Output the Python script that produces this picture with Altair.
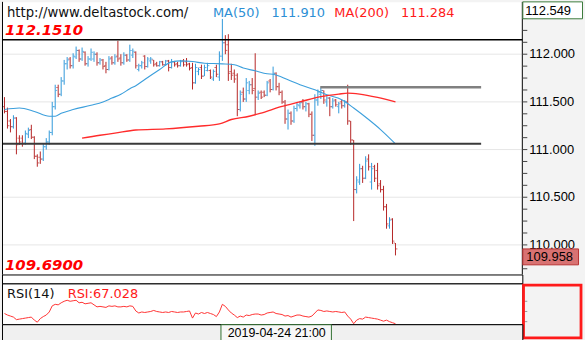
import altair as alt
import pandas as pd

# ---------------- data ----------------
opens = [111.45,111.40,111.30,111.24,111.33,111.12,111.12,111.07,111.16,111.21,
         111.13,110.93,110.92,110.90,111.03,111.08,111.18,111.45,111.65,111.58,
         111.72,111.90,111.95,111.88,111.97,112.04,111.95,112.02,111.90,111.95,
         111.95,112.00,111.91,111.94,111.88,111.84,111.96,111.91,111.98,111.96,
         111.91,111.99,111.94,111.99,112.02,111.84,111.88,111.98,111.87,111.93,
         111.94,111.90,111.88,111.92,111.89,111.93,111.86,111.92,111.90,111.88,
         111.93,111.92,111.90,111.86,111.70,111.82,111.86,111.77,111.83,111.83,
         111.74,111.86,111.76,111.98,112.12,112.10,111.82,111.80,111.78,111.42,
         111.60,111.53,111.62,111.68,111.64,111.55,111.60,111.60,111.57,111.72,
         111.63,111.80,111.66,111.60,111.50,111.32,111.38,111.30,111.43,111.46,
         111.50,111.45,111.48,111.37,111.15,111.52,111.58,111.62,111.50,111.54,
         111.45,111.52,111.45,111.50,111.46,111.50,111.30,111.10,110.58,110.66,
         110.80,110.70,110.90,110.66,110.82,110.78,110.64,110.58,110.40,110.20,
         110.27,110.02]
highs = [111.55,111.44,111.32,111.36,111.34,111.15,111.15,111.20,111.23,111.26,
         111.14,110.95,110.98,111.06,111.12,111.20,111.50,111.68,111.68,111.76,
         111.94,111.97,111.97,112.01,112.08,112.05,112.07,112.03,111.98,112.06,
         112.03,112.02,111.96,111.95,111.92,111.98,111.98,112.00,112.14,112.00,
         112.02,112.00,112.10,112.06,112.03,111.90,111.93,111.99,111.97,111.97,
         111.94,111.92,111.93,111.93,111.94,111.94,111.95,111.93,111.92,111.94,
         111.95,111.96,111.91,111.91,111.90,111.86,111.89,111.89,111.91,111.84,
         111.84,111.89,112.03,112.37,112.20,112.21,111.90,111.84,111.80,111.62,
         111.65,111.75,111.72,111.75,112.01,111.62,111.62,111.62,111.72,111.74,
         111.87,111.81,111.70,111.62,111.52,111.42,111.40,111.46,111.49,111.51,
         111.53,111.50,111.49,111.40,111.58,111.63,111.65,111.62,111.56,111.55,
         111.54,111.53,111.50,111.52,111.52,111.68,111.30,111.10,110.72,110.85,
         110.83,110.93,110.95,110.86,110.84,110.86,110.68,110.62,110.43,110.29,
         110.28,110.02]
lows = [111.38,111.22,111.18,111.22,110.95,111.05,111.03,111.05,111.12,111.11,
        110.90,110.82,110.85,110.88,111.00,111.05,111.15,111.42,111.55,111.56,
        111.68,111.84,111.85,111.85,111.95,111.92,111.93,111.88,111.87,111.93,
        111.92,111.88,111.89,111.84,111.80,111.83,111.89,111.89,111.92,111.88,
        111.89,111.92,111.92,111.96,111.85,111.82,111.85,111.84,111.86,111.90,
        111.87,111.87,111.87,111.88,111.88,111.82,111.85,111.87,111.86,111.87,
        111.87,111.87,111.83,111.63,111.69,111.78,111.74,111.77,111.82,111.74,
        111.72,111.76,111.72,111.93,112.00,111.72,111.73,111.70,111.35,111.40,
        111.50,111.50,111.58,111.58,111.36,111.52,111.53,111.55,111.56,111.60,
        111.62,111.62,111.57,111.48,111.27,111.21,111.26,111.28,111.40,111.43,
        111.42,111.40,111.34,111.09,111.04,111.46,111.53,111.48,111.45,111.35,
        111.43,111.45,111.38,111.43,111.44,111.26,111.05,110.25,110.54,110.63,
        110.65,110.69,110.78,110.58,110.66,110.58,110.55,110.36,110.17,110.17,
        110.01,109.89]
closes = [111.40,111.25,111.24,111.33,111.05,111.08,111.06,111.17,111.20,111.13,
          110.93,110.86,110.90,111.03,111.08,111.18,111.45,111.62,111.58,111.72,
          111.90,111.94,111.88,111.98,112.04,111.95,112.03,111.90,111.95,112.02,
          112.00,111.91,111.94,111.87,111.84,111.95,111.91,111.97,111.95,111.91,
          111.99,111.94,112.04,112.03,111.88,111.88,111.91,111.87,111.95,111.95,
          111.89,111.88,111.92,111.89,111.93,111.86,111.92,111.89,111.88,111.92,
          111.89,111.89,111.85,111.70,111.86,111.84,111.77,111.86,111.88,111.76,
          111.82,111.79,111.98,112.12,112.04,111.80,111.78,111.74,111.42,111.58,
          111.53,111.70,111.68,111.62,111.55,111.59,111.55,111.57,111.70,111.63,
          111.80,111.66,111.60,111.50,111.32,111.38,111.30,111.43,111.47,111.49,
          111.45,111.48,111.37,111.15,111.52,111.60,111.62,111.52,111.54,111.45,
          111.51,111.47,111.48,111.46,111.50,111.30,111.10,110.58,110.68,110.80,
          110.70,110.88,110.82,110.80,110.70,110.62,110.58,110.40,110.22,110.26,
          110.04,109.958]
rsi_values = [41,38,36,34,29,30,31,32,33,34, 28,24,31,35,38,44,56,59,58,62,
              65,67,65,66,67,62,63,60,61,62, 58,54,55,54,53,56,55,56,54,54,
              55,54,56,55,46,42,44,43,44,45, 47,45,44,43,44,43,45,44,43,44,
              44,45,46,32,42,40,43,41,43,41, 39,35,44,59,55,48,42,38,33,36,
              34,38,37,39,40,40,38,39,42,43, 44,41,40,39,36,37,34,36,38,38,
              36,35,34,36,42,48,47,45,46,45, 44,45,44,43,44,36,30,21,28,31,
              30,34,33,32,31,30,28,26,28,25, 23,21]
ma50_idx = [0,5,10,15,17,19,23,29,33,36,39,42,44,47,52,56,59,63,67,73,77,80,84,88,
            90,95,99,104,108,113,117,122,126,131]
ma50_val = [111.42,111.436,111.40,111.35,111.35,111.38,111.42,111.465,111.50,111.54,
            111.58,111.638,111.67,111.735,111.84,111.92,111.93,111.923,111.905,111.899,
            111.889,111.855,111.826,111.795,111.79,111.732,111.68,111.628,111.575,111.523,
            111.436,111.315,111.21,111.06]
ma200_idx = [26,32,37,44,54,65,72,76,82,86,93,99,106,112,115,119,125,131]
ma200_val = [111.12,111.15,111.172,111.205,111.217,111.245,111.269,111.315,111.349,
             111.383,111.453,111.50,111.555,111.582,111.592,111.582,111.547,111.50]

grid_levels = [110.0, 110.5, 111.0, 111.5, 112.0]
tick_values = [109.75, 109.875, 110.0, 110.125, 110.25, 110.375, 110.5, 110.625,
               110.75, 110.875, 111.0, 111.125, 111.25, 111.375, 111.5, 111.625,
               111.75, 111.875, 112.0, 112.125, 112.25, 112.375, 112.5]
tick_labels = [110.0, 110.5, 111.0, 111.5, 112.0]
price_min, price_max = 109.69, 112.549
last_price = 109.958
level_top = 112.151
level_support = 111.06
support_start, support_end = -0.83, 159.7
level_resist = 111.654
resist_start, resist_end = 105.8, 159.7
cross_index = 91.2
cross_label = "2019-04-24 21:00"
rsi_ticks = [25, 45, 65]

# ---------------- helpers ----------------
W = 523
X0 = -2.5 / 3
X1 = X0 + W / 3
xs = alt.Scale(domain=[X0, X1], nice=False, zero=False)
ys = alt.Scale(domain=[price_min, price_max], nice=False, zero=False)

BLUE = "#2f98da"
RED = "#b52626"
MA_BLUE = "#3c9fdc"
MA_RED = "#ff2b2b"

bars = pd.DataFrame({"i": list(range(len(closes))), "open": opens, "high": highs,
                     "low": lows, "close": closes})
bars["dir"] = ["up" if c >= o else "down" for o, c in zip(opens, closes)]
color = alt.Color("dir:N", scale=alt.Scale(domain=["up", "down"], range=[BLUE, RED]), legend=None)
X = alt.X("i:Q", scale=xs, axis=None)


def Yp(field):
    return alt.Y(field, scale=ys, axis=None)


one = pd.DataFrame({"a": [0]})

grid = alt.Chart(pd.DataFrame({"level": grid_levels})).mark_rule(
    color="#e6e6e6", strokeWidth=1).encode(y=Yp("level:Q"))

wick = alt.Chart(bars).mark_rule(strokeWidth=1).encode(
    x=X, y=Yp("low:Q"), y2="high:Q", color=color)
otick = alt.Chart(bars).mark_tick(orient="horizontal", size=1.5, thickness=1, xOffset=-1.2).encode(
    x=X, y=Yp("open:Q"), color=color)
ctick = alt.Chart(bars).mark_tick(orient="horizontal", size=1.5, thickness=1, xOffset=1.2).encode(
    x=X, y=Yp("close:Q"), color=color)

ma50 = alt.Chart(pd.DataFrame({"i": ma50_idx, "v": ma50_val})).mark_line(
    color=MA_BLUE, strokeWidth=1.1, interpolate="monotone").encode(x=X, y=Yp("v:Q"))
ma200 = alt.Chart(pd.DataFrame({"i": ma200_idx, "v": ma200_val})).mark_line(
    color=MA_RED, strokeWidth=1.4, interpolate="monotone").encode(x=X, y=Yp("v:Q"))

top_line = alt.Chart(pd.DataFrame({"p": [level_top]})).mark_rule(
    color="black", strokeWidth=1.5).encode(y=Yp("p:Q"))
sup_line = alt.Chart(pd.DataFrame({"p": [level_support], "s": [support_start], "e": [support_end]})).mark_rule(
    color="#3a3a3a", strokeWidth=2).encode(x=alt.X("s:Q", scale=xs, axis=None), x2="e:Q", y=Yp("p:Q"))
res_line = alt.Chart(pd.DataFrame({"p": [level_resist], "s": [resist_start], "e": [resist_end]})).mark_rule(
    color="#808080", strokeWidth=2.5).encode(x=alt.X("s:Q", scale=xs, axis=None), x2="e:Q", y=Yp("p:Q"))
left_border = alt.Chart(one).mark_rule(color="black").encode(
    x=alt.value(0.5), y=alt.value(0), y2=alt.value(274))
right_border = alt.Chart(one).mark_rule(color="black").encode(
    x=alt.value(523), y=alt.value(0), y2=alt.value(274))
right_ext = alt.Chart(one).mark_rule(color="#f3f3f3").encode(
    x=alt.value(584.5), y=alt.value(0), y2=alt.value(274))

# right price axis drawn from the tick arrays
ax_ticks = alt.Chart(pd.DataFrame({"v": tick_values})).mark_rule(color="#444444").encode(
    y=Yp("v:Q"), x=alt.value(523), x2=alt.value(528))
ax_labels = alt.Chart(pd.DataFrame({"v": tick_labels})).mark_text(
    align="left", baseline="middle", font="Liberation Sans", fontSize=13, color="black").encode(
    text=alt.Text("v:Q", format=".3f"), y=Yp("v:Q"), x=alt.value(530))


def label(txt, x, y, col, size=13, font="DejaVu Sans", **kw):
    return alt.Chart(pd.DataFrame({"t": [txt]})).mark_text(
        align="left", baseline="alphabetic", font=font, fontSize=size, color=col, **kw).encode(
        text="t:N", x=alt.value(x), y=alt.value(y))


url_t = label("http://www.deltastock.com/", 5, 15, "#111111", 13.3)
ma50_t = label("MA(50)", 212, 15, "#2d8fd5")
ma50_v = label("111.910", 271, 15, "#2d8fd5")
ma200_t = label("MA(200)", 334, 15, "#ff1a1a")
ma200_v = label("111.284", 401, 15, "#ff1a1a")

lvl = pd.DataFrame({"p": [level_top, price_min], "t": ["112.1510", "109.6900"]})
lvl_text = alt.Chart(lvl).mark_text(align="left", baseline="alphabetic", font="DejaVu Sans",
                                    fontSize=15, fontWeight="bold", fontStyle="italic",
                                    color="#ff0000", dy=-4.5).encode(
    text="t:N", x=alt.value(3), y=Yp("p:Q"))

top_box = alt.Chart(pd.DataFrame({"p": [price_max]})).mark_rect(
    fill="white", stroke="#3b7b3b", strokeWidth=1, y2Offset=17).encode(
    x=alt.value(523.5), x2=alt.value(583.5), y=Yp("p:Q"), y2="p:Q")
top_txt = alt.Chart(pd.DataFrame({"p": [price_max], "t": ["112.549"]})).mark_text(
    align="left", baseline="middle", font="Liberation Sans", fontSize=13, color="black", dy=9).encode(
    text="t:N", x=alt.value(526), y=Yp("p:Q"))
last_box = alt.Chart(pd.DataFrame({"p": [last_price]})).mark_rect(
    fill="#d87272", stroke="#b83030", strokeWidth=1, y2Offset=16).encode(
    x=alt.value(523.5), x2=alt.value(579.5), y=Yp("p:Q"), y2="p:Q")
last_txt = alt.Chart(pd.DataFrame({"p": [last_price], "t": ["109.958"]})).mark_text(
    align="left", baseline="middle", font="Liberation Sans", fontSize=13, color="black", dy=8.5).encode(
    text="t:N", x=alt.value(527), y=Yp("p:Q"))

main = alt.layer(grid, wick, otick, ctick, ma50, ma200, top_line, sup_line, res_line,
                 left_border, right_border, right_ext, ax_ticks, ax_labels,
                 url_t, ma50_t, ma50_v, ma200_t, ma200_v, lvl_text,
                 top_box, top_txt, last_box, last_txt).properties(
    width=W, height=274, view=alt.ViewBackground(fill="white", stroke="transparent"))

strip = alt.Chart(one).mark_rule(color="black").encode(
    x=alt.value(0.5), y=alt.value(0), y2=alt.value(9)).properties(
    width=W, height=9, view=alt.ViewBackground(fill="white", stroke="black"))

rsi_scale = alt.Scale(domain=[20, 100], nice=False, zero=False)
rsi_df = pd.DataFrame({"i": list(range(len(rsi_values))), "r": rsi_values})
rsi_line = alt.Chart(rsi_df).mark_line(color="#ff3333", strokeWidth=1).encode(
    x=X, y=alt.Y("r:Q", scale=rsi_scale, axis=None))
rsi_tick = alt.Chart(pd.DataFrame({"r": rsi_ticks})).mark_rule(color="#999999").encode(
    y=alt.Y("r:Q", scale=rsi_scale, axis=None), x=alt.value(524), x2=alt.value(528))
rsi_t1 = label("RSI(14)", 5, 15, "#111111")
rsi_t2 = label("RSI:67.028", 66, 15, "#ff1a1a")
red_box = alt.Chart(one).mark_rect(fill="transparent", stroke="#ff1a1a", strokeWidth=2.8).encode(
    x=alt.value(524.2), x2=alt.value(582), y=alt.value(1.7), y2=alt.value(54.7))
rsi_panel = alt.layer(rsi_line, rsi_tick, rsi_t1, rsi_t2, red_box).properties(
    width=W, height=41, view=alt.ViewBackground(fill="white", stroke="black"))

cross = pd.DataFrame({"i": [cross_index], "t": [cross_label]})
date_box = alt.Chart(cross).mark_rect(fill="#f7f7f7", stroke="#2f6f2f", strokeWidth=1,
                                      xOffset=-56, x2Offset=55).encode(
    x=alt.X("i:Q", scale=xs, axis=None), x2="i:Q", y=alt.value(0.5), y2=alt.value(17))
date_txt = alt.Chart(cross).mark_text(align="center", baseline="middle", font="Liberation Sans",
                                      fontSize=12.5, color="black").encode(
    text="t:N", x=alt.X("i:Q", scale=xs, axis=None), y=alt.value(9))
date_panel = alt.layer(date_box, date_txt).properties(
    width=W, height=16, view=alt.ViewBackground(fill="#f0f0f0", stroke="black"))

chart = alt.vconcat(main, strip, rsi_panel, date_panel, spacing=0, bounds="flush").properties(
    background="#f3f3f3", padding=0)

chart.save("out.html", embed_options={"renderer": "svg", "actions": False})
